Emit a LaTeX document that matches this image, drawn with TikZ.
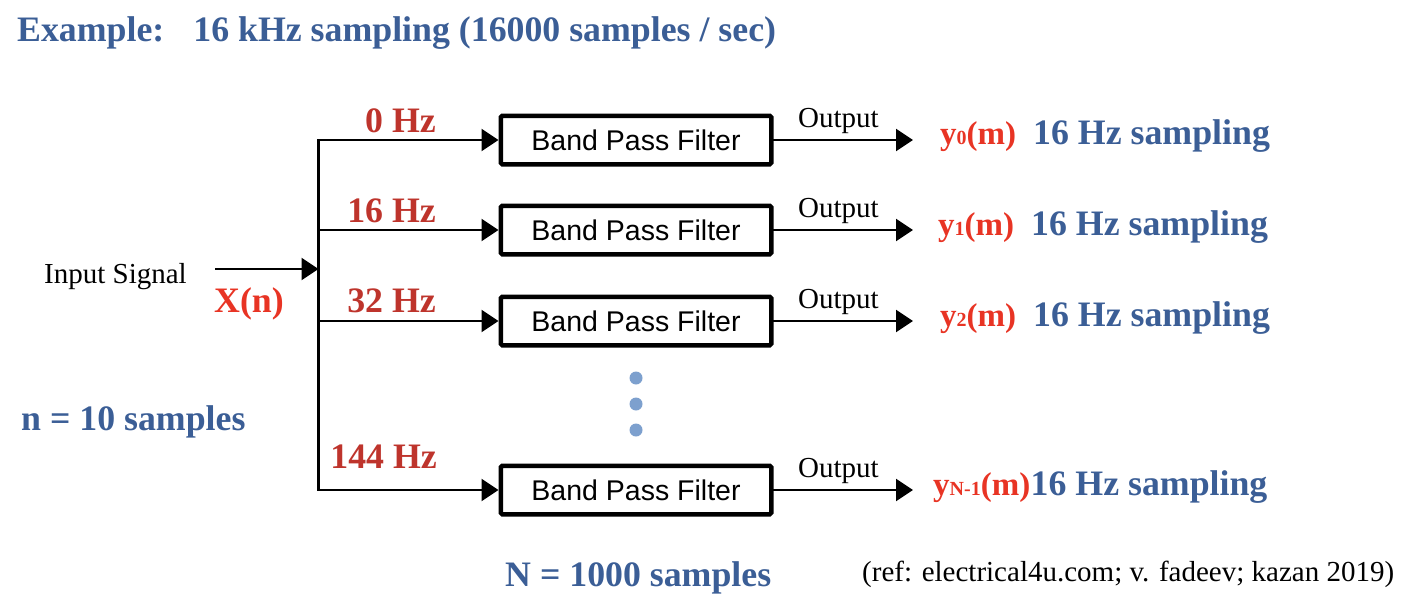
\documentclass[tikz,border=0pt]{standalone}
\usepackage{fontspec}
\setmainfont{Liberation Serif}
\setsansfont{Liberation Sans}
\usepackage{xcolor}
\usepackage{tikz}
\usetikzlibrary{arrows.meta, positioning}
\definecolor{titleblue}{RGB}{59,94,150}
\definecolor{freqred}{RGB}{190,52,44}
\definecolor{sigred}{RGB}{232,52,36}
\definecolor{dotblue}{RGB}{125,160,206}
\newcommand{\subdig}[1]{{\fontsize{20}{20}\selectfont #1}}

\begin{document}
\begin{tikzpicture}[
    x=1pt, y=-1pt,
    bpf/.style={draw, line width=4.5pt, rounded corners=1.5pt, minimum width=270.5pt, minimum height=48.5pt, inner sep=0pt, font=\sffamily\fontsize{28.5}{32}\selectfont},
    boldtext/.style={inner sep=0pt, anchor=base west, font=\fontsize{35.8}{40}\selectfont\bfseries},
    plaintext/.style={inner sep=0pt, anchor=base west, font=\fontsize{29}{32}\selectfont},
    freq/.style={boldtext, anchor=base east, text=freqred},
    rate/.style={boldtext, text=titleblue},
    outsig/.style={boldtext, text=sigred, font=\fontsize{33}{38}\selectfont\bfseries},
    wire/.style={line width=2.4pt, line cap=rect},
    arrow/.style={wire, -{Triangle[length=17pt, width=22pt]}},
    dot/.style={circle, fill=dotblue, minimum size=13pt, inner sep=0pt}
]
    \useasboundingbox (0,0) rectangle (1416,608);

    % Title and notes
    \node[boldtext, text=titleblue] (title) at (17,41) {Example:\hspace{29pt}16 kHz sampling (16000 samples / sec)};
    \node[boldtext, text=titleblue] (nsmall) at (21,430) {n = 10 samples};
    \node[boldtext, text=titleblue] (nlarge) at (505,586) {N = 1000 samples};
    \node[plaintext] (ref) at (862,581) {(ref: electrical4u.com; v. fadeev; kazan 2019)};

    % Input
    \node[plaintext] (insig) at (44,283) {Input Signal};
    \node[boldtext, text=sigred] (xn) at (214,312) {X(n)};
    \coordinate (inp) at (216,269);
    \coordinate (junc) at (318.5,269);
    \draw[arrow] (inp) -- (junc);

    % Filters
    \node[bpf] (bpf0) at (636,140) {Band Pass Filter};
    \node[bpf] (bpf1) at (636,230) {Band Pass Filter};
    \node[bpf] (bpf2) at (636,321) {Band Pass Filter};
    \node[bpf] (bpfn) at (636,490) {Band Pass Filter};

    \node[dot] (dot1) at (636,378) {};
    \node[dot] (dot2) at (636,404) {};
    \node[dot] (dot3) at (636,430) {};

    % Bus and branches
    \coordinate (br0) at (318.5,140);
    \coordinate (br1) at (318.5,230);
    \coordinate (br2) at (318.5,321);
    \coordinate (brn) at (318.5,490);
    \draw[wire] (br0) -- (brn);
    \draw[arrow] (br0) -- (bpf0.west);
    \draw[arrow] (br1) -- (bpf1.west);
    \draw[arrow] (br2) -- (bpf2.west);
    \draw[arrow] (brn) -- (bpfn.west);

    \node[freq] (f0) at (436,132) {0 Hz};
    \node[freq] (f1) at (436,222) {16 Hz};
    \node[freq] (f2) at (436,312) {32 Hz};
    \node[freq] (fn) at (437,468) {144 Hz};

    % Outputs
    \coordinate (out0) at (913,140);
    \coordinate (out1) at (913,230);
    \coordinate (out2) at (913,321);
    \coordinate (outn) at (913,490);
    \draw[arrow] (bpf0.east) -- (out0);
    \draw[arrow] (bpf1.east) -- (out1);
    \draw[arrow] (bpf2.east) -- (out2);
    \draw[arrow] (bpfn.east) -- (outn);

    \node[plaintext] (lbl0) at (798,127) {Output};
    \node[plaintext] (lbl1) at (798,217) {Output};
    \node[plaintext] (lbl2) at (798,308) {Output};
    \node[plaintext] (lbln) at (798,477) {Output};

    \node[outsig] (y0) at (940,144) {y\subdig{0}(m)};
    \node[outsig] (y1) at (938,235) {y\subdig{1}(m)};
    \node[outsig] (y2) at (940,326) {y\subdig{2}(m)};
    \node[outsig] (yn) at (933,495) {y\subdig{N-1}(m)};

    \node[rate] (r0) at (1033,144) {16 Hz sampling};
    \node[rate] (r1) at (1031,235) {16 Hz sampling};
    \node[rate] (r2) at (1033,326) {16 Hz sampling};
    \node[rate] (rn) at (yn.base east) {16 Hz sampling};
\end{tikzpicture}
\end{document}
